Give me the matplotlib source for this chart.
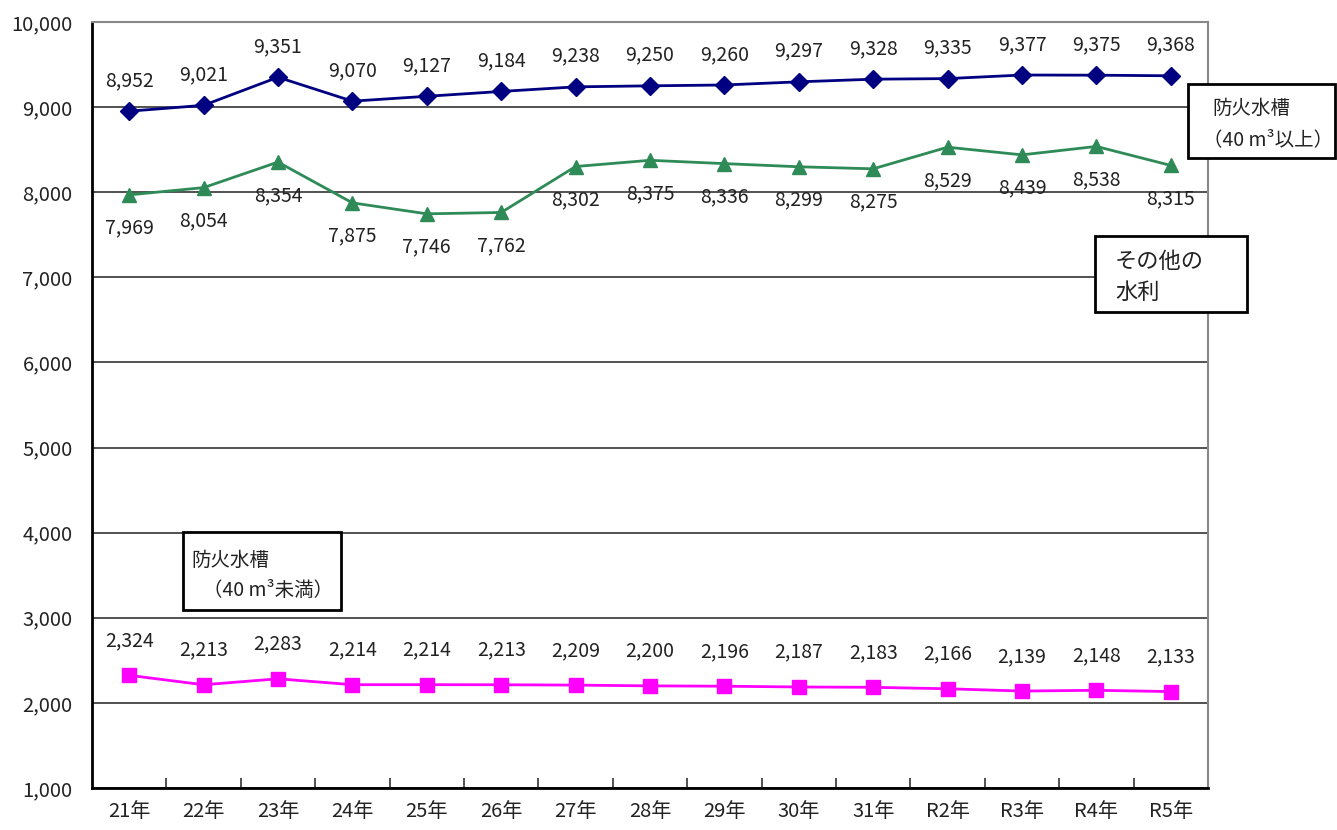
import matplotlib
matplotlib.use('Agg')
import matplotlib.pyplot as plt
from matplotlib.ticker import FuncFormatter, FixedLocator

plt.rcParams['font.family'] = ['Noto Sans CJK JP', 'DejaVu Sans']

years = ['21年', '22年', '23年', '24年', '25年', '26年', '27年', '28年',
         '29年', '30年', '31年', 'R2年', 'R3年', 'R4年', 'R5年']
tank_large = [8952, 9021, 9351, 9070, 9127, 9184, 9238, 9250,
              9260, 9297, 9328, 9335, 9377, 9375, 9368]
other_water = [7969, 8054, 8354, 7875, 7746, 7762, 8302, 8375,
               8336, 8299, 8275, 8529, 8439, 8538, 8315]
tank_small = [2324, 2213, 2283, 2214, 2214, 2213, 2209, 2200,
              2196, 2187, 2183, 2166, 2139, 2148, 2133]

fig = plt.figure(figsize=(13.37, 8.30), dpi=100)
ax = fig.add_axes([0.0688, 0.0506, 0.8347, 0.9229])

x = list(range(len(years)))

series = [
    (tank_large, '#000080', 'D', 9, 22),
    (other_water, '#2E8B57', '^', 10, -24),
    (tank_small, '#FF00FF', 's', 10, 25),
]
for vals, color, marker, ms, dy in series:
    ax.plot(x, vals, color=color, marker=marker, markersize=ms, linewidth=2, zorder=3)
    for xi, v in zip(x, vals):
        ax.annotate(f'{v:,}', (xi, v), xytext=(0, dy), textcoords='offset points',
                    ha='center', va='center', fontsize=14, color='#222222')

ax.set_xlim(-0.5, len(years) - 0.5)
ax.set_ylim(1000, 10000)
ax.set_yticks(range(1000, 10001, 1000))
ax.yaxis.set_major_formatter(FuncFormatter(lambda v, p: f'{int(v):,}'))
ax.tick_params(axis='y', length=0, labelsize=14.5, pad=14, labelcolor='#222222')
ax.grid(axis='y', color='#333333', linewidth=1.2)
ax.set_axisbelow(True)

# category labels centred on the points, tick marks between categories
ax.set_xticks(x)
ax.set_xticklabels(years, fontsize=14.5, color='#222222')
ax.tick_params(axis='x', which='major', length=0, pad=9)
ax.xaxis.set_minor_locator(FixedLocator([i + 0.5 for i in range(len(years))]))
ax.tick_params(axis='x', which='minor', direction='in', length=7, width=1.2, color='#333333')

for side in ['left', 'bottom']:
    ax.spines[side].set_color('black')
    ax.spines[side].set_linewidth(2)
for side in ['top', 'right']:
    ax.spines[side].set_color('#888888')
    ax.spines[side].set_linewidth(1.5)


# callout boxes naming each series (pixel coordinates from the top-left)
def callout(x0, y0, x1, y1, lines, size):
    rect = plt.Rectangle((x0 / 1337, 1 - y1 / 830), (x1 - x0) / 1337, (y1 - y0) / 830,
                         transform=fig.transFigure, facecolor='white',
                         edgecolor='black', linewidth=2, zorder=5)
    fig.add_artist(rect)
    for tx, ty, text in lines:
        fig.text(tx / 1337, 1 - ty / 830, text,
                 fontsize=size, color='#222222', va='center', ha='left', zorder=6)


callout(1188, 84, 1335, 158, [(1212, 108, '防火水槽'), (1203, 140, '（40 m³以上）')], 14)
callout(1095, 236, 1247, 312, [(1115, 262, 'その他の'), (1115, 292, '水利')], 16)
callout(183, 532, 341, 610, [(191, 560, '防火水槽'), (203, 590, '（40 m³未満）')], 14)

fig.savefig('out.png', dpi=100)
